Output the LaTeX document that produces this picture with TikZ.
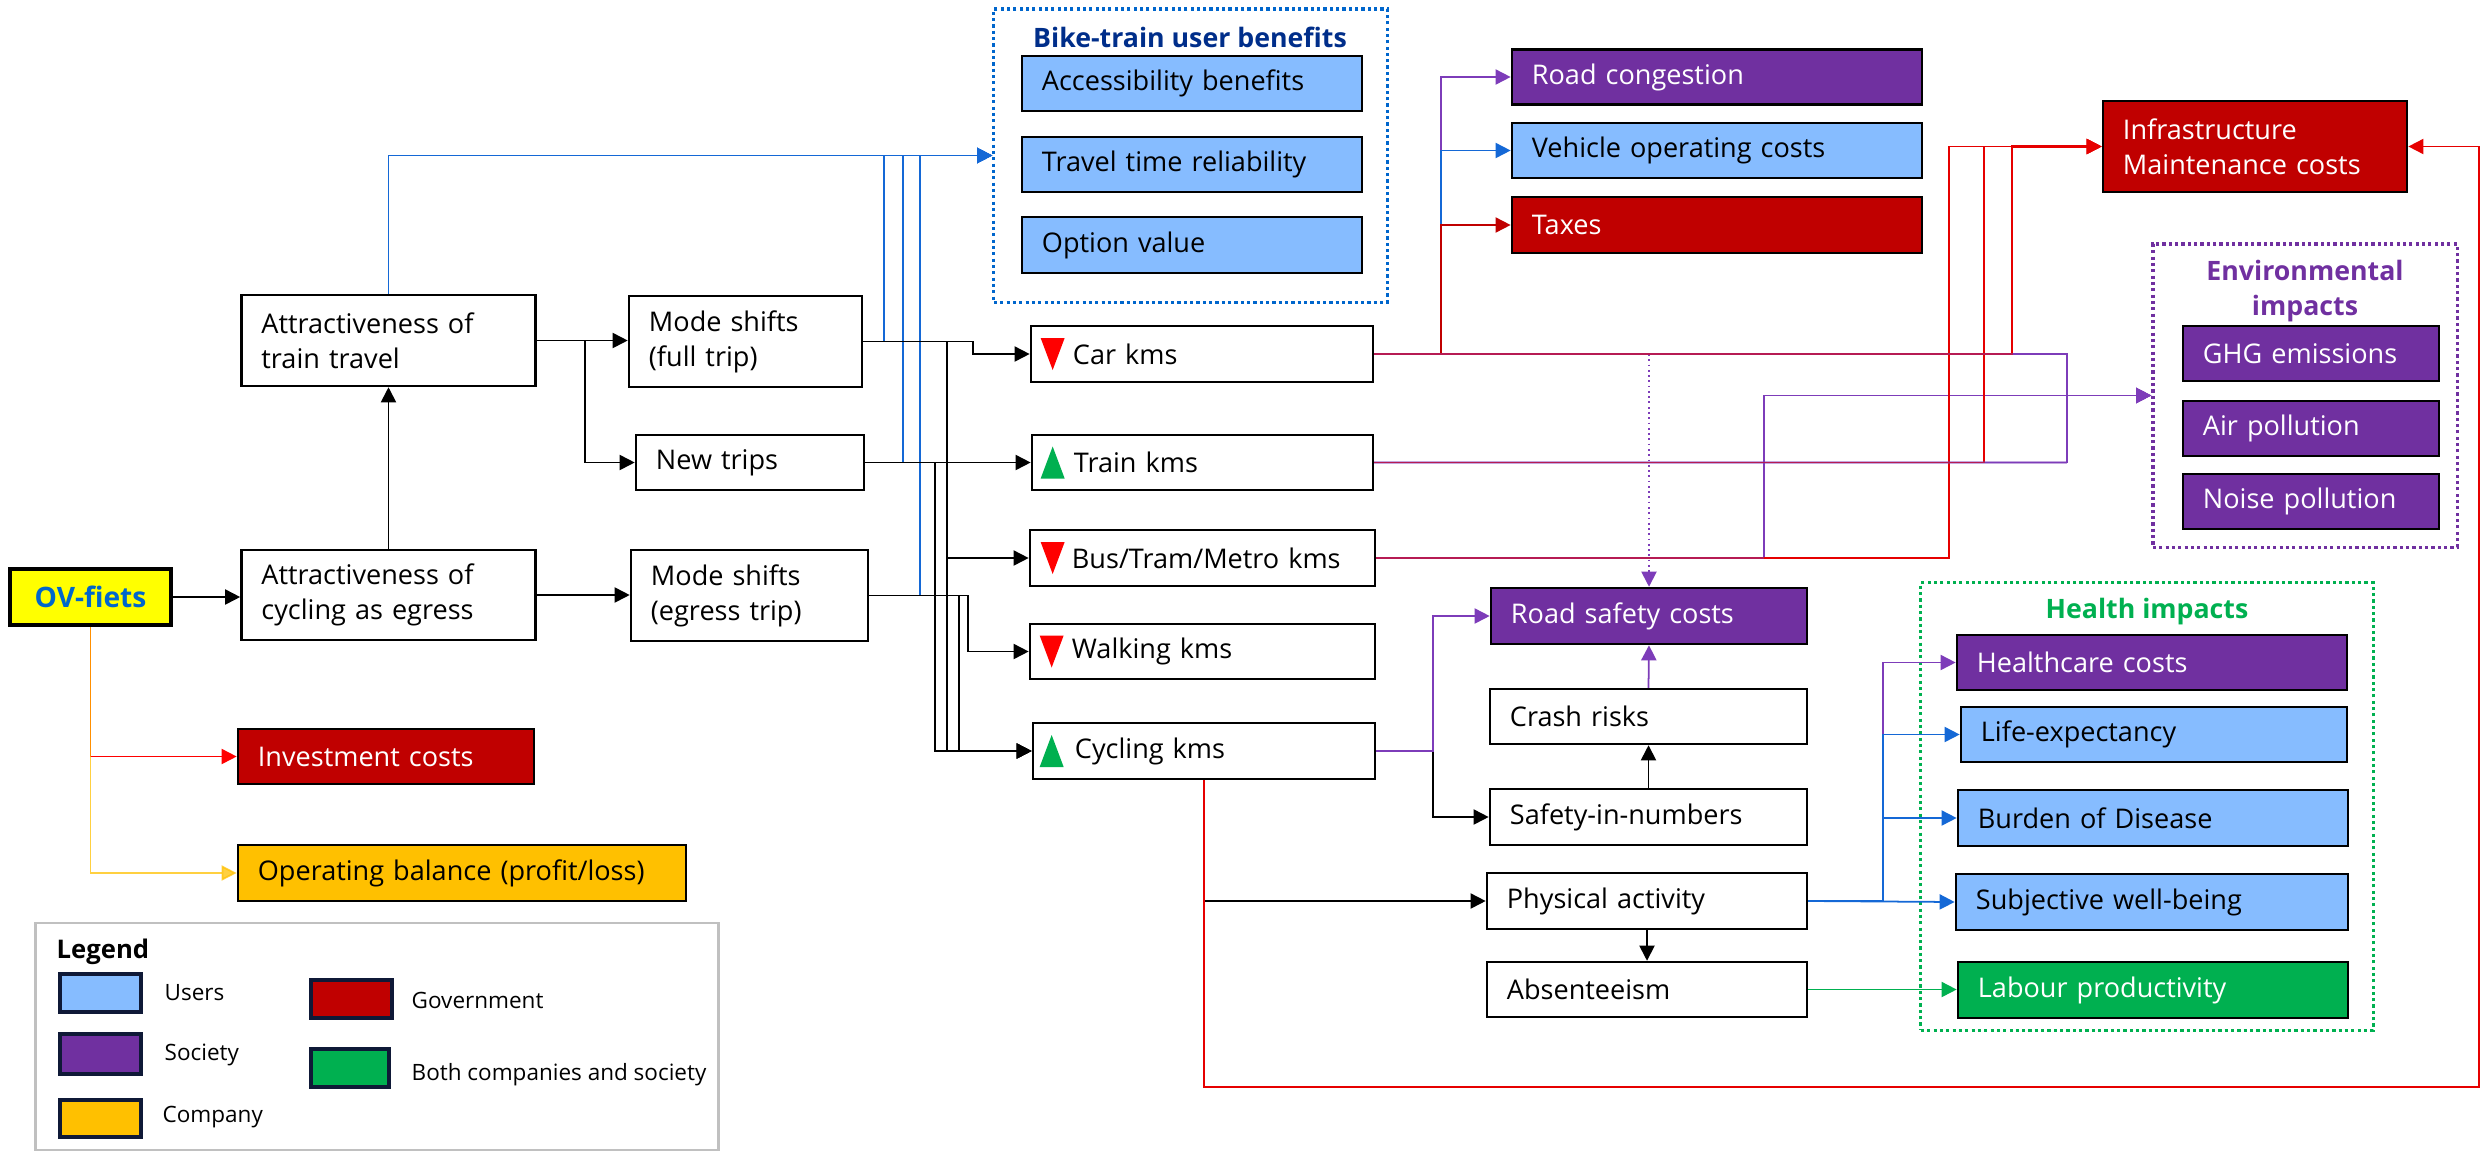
\documentclass[tikz,border=0pt]{standalone}
\usepackage{fontspec}
\setmainfont{Open Sans}
\usetikzlibrary{arrows.meta,calc}

\definecolor{userblue}{RGB}{134,188,255}
\definecolor{socpurple}{RGB}{112,48,160}
\definecolor{govred}{RGB}{192,0,0}
\definecolor{bothgreen}{RGB}{0,176,80}
\definecolor{compamber}{RGB}{255,192,0}
\definecolor{ovyellow}{RGB}{255,255,0}
\definecolor{ovblue}{RGB}{0,102,204}
\definecolor{headblue}{RGB}{0,46,138}
\definecolor{lineblue}{RGB}{20,104,214}
\definecolor{linepurple}{RGB}{125,60,185}
\definecolor{linered}{RGB}{230,0,0}
\definecolor{brightred}{RGB}{255,0,0}
\definecolor{framegray}{RGB}{192,192,192}
\definecolor{swatchedge}{RGB}{15,25,55}

\newcommand\boxfont{\fontsize{7.7pt}{10pt}\selectfont}
\newcommand\headfont{\fontsize{7.6pt}{10pt}\selectfont\bfseries}
\newcommand\legfont{\fontsize{6.4pt}{8pt}\selectfont}

\tikzset{
  bx/.style={draw=black, line width=0.7pt, inner xsep=0.2cm, inner ysep=0pt,
             align=left, font=\boxfont},
  wbx/.style={bx, fill=white},
  ubx/.style={bx, fill=userblue},
  sbx/.style={bx, fill=socpurple, text=white},
  gbx/.style={bx, fill=govred, text=white},
  cbx/.style={bx, fill=compamber},
  bbx/.style={bx, fill=bothgreen, text=white},
  grp/.style={line width=0.9pt, dash pattern=on 0.9pt off 0.9pt, inner sep=0pt},
  tip/.style={-{Triangle[length=4.3pt,width=4.3pt]}},
  conn/.style={line width=0.5pt, tip},
  bk/.style={conn, draw=black},
  bu/.style={conn, draw=lineblue},
  pu/.style={conn, draw=linepurple},
  rd/.style={conn, draw=linered},
  drd/.style={conn, draw=govred},
  gr/.style={conn, draw=bothgreen},
  am/.style={conn, draw=compamber, opacity=0.75},
  tint/.style={draw=linepurple, line width=0.6pt, opacity=0.45},
  sw/.style={draw=swatchedge, line width=1.1pt, minimum width=0.81cm,
             minimum height=0.38cm, inner sep=0pt},
  lg/.style={anchor=west, font=\legfont, inner sep=0pt},
}

\begin{document}
\begin{tikzpicture}[x=0.01cm, y=-0.01cm]
\useasboundingbox (0,0) rectangle (2484,1151);

% ---------- group frames ----------
\node[grp, draw=ovblue, minimum width=3.93cm, minimum height=2.93cm] (ubox) at (1190.5,155.5) {};
\node[font=\headfont, text=headblue, inner sep=0pt] (utitle) at (1190,37) {Bike-train user benefits};
\node[grp, draw=socpurple, minimum width=3.04cm, minimum height=3.03cm] (envbox) at (2305,395.5) {};
\node[font=\headfont, text=socpurple, align=center, inner sep=0pt] (etitle) at (2305,291) {Environmental\\impacts};
\node[grp, draw=bothgreen, minimum width=4.52cm, minimum height=4.47cm] (hbox) at (2147,806.5) {};
\node[font=\headfont, text=bothgreen, inner sep=0pt] (htitle) at (2147,612) {Health impacts};

% ---------- legend ----------
\node[draw=framegray, line width=0.8pt, minimum width=6.82cm, minimum height=2.27cm, inner sep=0pt] (legend) at (377,1036.5) {};
\node[anchor=west, font=\fontsize{7.3pt}{9pt}\selectfont\bfseries, inner sep=0pt] (lgh) at (56,952) {Legend};
\node[sw, fill=userblue] (lgu) at (100.5,993) {};
\node[lg] (lgut) at (164,993) {Users};
\node[sw, fill=socpurple, minimum height=0.40cm] (lgs) at (100.5,1054) {};
\node[lg] (lgst) at (164,1055) {Society};
\node[sw, fill=compamber, minimum height=0.37cm] (lgc) at (100.5,1118.5) {};
\node[lg] (lgct) at (162,1117) {Company};
\node[sw, fill=govred] (lgg) at (351.5,999) {};
\node[lg] (lggt) at (411,1000) {Government};
\node[sw, fill=bothgreen, minimum width=0.78cm] (lgb) at (350,1068) {};
\node[lg] (lgbt) at (411,1075) {Both companies and society};

% ---------- left column ----------
\node[draw=black, line width=1.1pt, fill=ovyellow, minimum width=1.61cm, minimum height=0.56cm,
      inner sep=0pt, font=\fontsize{8pt}{10pt}\selectfont\bfseries, text=ovblue] (ov) at (90.5,597) {OV-fiets};
\node[wbx, text width=2.54cm, minimum height=0.91cm] (attrT) at (388.5,340.5) {Attractiveness of\\train travel};
\node[wbx, text width=2.54cm, minimum height=0.90cm] (attrC) at (388.5,595) {Attractiveness of\\cycling as egress};
\node[gbx, text width=2.56cm, minimum height=0.55cm] (inv) at (386,756.5) {Investment costs};
\node[cbx, text width=4.08cm, minimum height=0.56cm] (opb) at (462,873) {Operating balance (profit/loss)};

\node[wbx, text width=1.93cm, minimum height=0.91cm] (modeF) at (745.5,341.5) {Mode shifts\\(full trip)};
\node[wbx, text width=1.88cm, minimum height=0.55cm] (newT) at (750,462.5) {New trips};
\node[wbx, text width=1.97cm, minimum height=0.91cm] (modeE) at (749.5,595.5) {Mode shifts\\(egress trip)};

% ---------- user benefits ----------
\node[ubx, text width=3.00cm, minimum height=0.55cm] (acc) at (1192,83.5) {Accessibility benefits};
\node[ubx, text width=3.00cm, minimum height=0.55cm] (ttr) at (1192,164.5) {Travel time reliability};
\node[ubx, text width=3.00cm, minimum height=0.56cm] (opt) at (1192,245) {Option value};

% ---------- kilometre changes ----------
\node[wbx, text width=3.02cm, minimum height=0.56cm] (car) at (1202,354) {\hspace*{0.22cm}Car kms};
\node[wbx, text width=3.01cm, minimum height=0.55cm] (train) at (1202.5,462.5) {\hspace*{0.22cm}Train kms};
\node[wbx, text width=3.05cm, minimum height=0.56cm] (bus) at (1202.5,558) {\hspace*{0.22cm}Bus/Tram/Metro kms};
\node[wbx, text width=3.05cm, minimum height=0.55cm] (walk) at (1202.5,651.5) {\hspace*{0.22cm}Walking kms};
\node[wbx, text width=3.02cm, minimum height=0.56cm] (cyc) at (1204,751) {\hspace*{0.22cm}Cycling kms};

\fill[brightred] ($(car.west)+(11,-16)$) -- ++(24,0) -- ++(-12,32) -- cycle;
\fill[bothgreen] ($(train.west)+(10,16)$) -- ++(24,0) -- ++(-12,-32) -- cycle;
\fill[brightred] ($(bus.west)+(12,-16)$) -- ++(24,0) -- ++(-12,32) -- cycle;
\fill[brightred] ($(walk.west)+(11,-16)$) -- ++(24,0) -- ++(-12,32) -- cycle;
\fill[bothgreen] ($(cyc.west)+(8,16)$) -- ++(24,0) -- ++(-12,-32) -- cycle;

% ---------- road effects ----------
\node[sbx, text width=3.70cm, minimum height=0.55cm] (rc) at (1717,77) {Road congestion};
\node[ubx, text width=3.70cm, minimum height=0.55cm] (voc) at (1717,150.5) {Vehicle operating costs};
\node[gbx, text width=3.70cm, minimum height=0.56cm] (tax) at (1717,225) {Taxes};
\node[gbx, text width=2.64cm, minimum height=0.91cm] (infra) at (2255,146.5) {Infrastructure\\Maintenance costs};

% ---------- environment ----------
\node[sbx, text width=2.16cm, minimum height=0.55cm] (ghg) at (2311,353.5) {GHG emissions};
\node[sbx, text width=2.16cm, minimum height=0.55cm] (air) at (2311,428.5) {Air pollution};
\node[sbx, text width=2.16cm, minimum height=0.55cm] (noise) at (2311,501.5) {Noise pollution};

% ---------- safety and health chain ----------
\node[sbx, text width=2.76cm, minimum height=0.56cm] (rsc) at (1649,616) {Road safety costs};
\node[wbx, text width=2.77cm, minimum height=0.55cm] (crash) at (1648.5,716.5) {Crash risks};
\node[wbx, text width=2.77cm, minimum height=0.56cm] (sin) at (1648.5,817) {Safety-in-numbers};
\node[wbx, text width=2.80cm, minimum height=0.56cm] (phys) at (1647,901) {Physical activity};
\node[wbx, text width=2.80cm, minimum height=0.55cm] (abs) at (1647,989.5) {Absenteeism};

\node[sbx, text width=3.50cm, minimum height=0.55cm] (hc) at (2152,662.5) {Healthcare costs};
\node[ubx, text width=3.46cm, minimum height=0.55cm] (le) at (2154,734.5) {Life-expectancy};
\node[ubx, text width=3.50cm, minimum height=0.56cm] (bod) at (2153,818) {Burden of Disease};
\node[ubx, text width=3.52cm, minimum height=0.56cm] (swb) at (2152,902) {Subjective well-being};
\node[bbx, text width=3.50cm, minimum height=0.56cm] (lab) at (2153,990) {Labour productivity};

% ---------- connectors: user benefits ----------
\draw[bu] (attrT.north) |- (ubox.west);
\draw[bu] (modeF.east) -- (884,341.5) |- (ubox.west);
\draw[bu] (newT.east) -- (903,462.5) |- (ubox.west);
\draw[bu] (modeE.east) -- (920,595.5) |- (ubox.west);

% ---------- connectors: behavioural chain ----------
\draw[bk] (ov.east) -- (ov.east -| attrC.west);
\draw[bk] (attrC.north) -- (attrT.south);
\draw[bk] (attrT.east) -- (attrT.east -| modeF.west);
\draw[bk] (attrT.east) -- (585,340.5) |- (newT.west);
\draw[bk] (attrC.east) -- (attrC.east -| modeE.west);
\draw[bk] (modeF.east) -| (973,354) -- (car.west);
\draw[bk] (modeF.east) -| (947,558) -- (bus.west);
\draw[bk] (modeF.east) -| (947,751) -- (cyc.west);
\draw[bk] (newT.east) -- (train.west);
\draw[bk] (newT.east) -| (935,751) -- (cyc.west);
\draw[bk] (modeE.east) -| (968,651.5) -- (walk.west);
\draw[bk] (modeE.east) -| (959,751) -- (cyc.west);
\draw[bk] (cyc.east) -- (1433,751) |- (sin.west);
\draw[bk] (cyc.south) |- (phys.west);
\draw[bk] (sin.north) -- (crash.south);
\draw[bk] (phys.south) -- (abs.north);

% ---------- connectors: society ----------
\draw[pu] (car.east) -- (1441,354) |- (rc.west);
\draw[pu] (car.east) -| (2067,395.5) -- (envbox.west);
\draw[pu] (train.east) -| (2067,395.5) -- (envbox.west);
\draw[pu] (bus.east) -| (1764,395.5) -- (envbox.west);
\draw[pu, densely dotted, -] (car.east -| rsc.north) -- ($(rsc.north)+(0,-14)$);
\draw[pu] ($(rsc.north)+(0,-15)$) -- (rsc.north);
\draw[pu] (cyc.east) -- (1433,751) |- (rsc.west);
\draw[pu] (crash.north) -- (rsc.south);
\draw[pu] (phys.east) -- (1883,901) |- (hc.west);

% ---------- connectors: users ----------
\draw[bu] (car.east) -- (1441,354) |- (voc.west);
\draw[bu] (phys.east) -- (1883,901) |- (le.west);
\draw[bu] (phys.east) -- (1883,901) |- (bod.west);
\draw[bu] (phys.east) -- (swb.west);

% ---------- connectors: government ----------
\draw[drd] (car.east) -- (1441,354) |- (tax.west);
\draw[rd, line width=0.6pt] (car.east) -| (2012,146.5) -- (infra.west);
\draw[rd] (train.east) -| (1984,146.5) -- (infra.west);
\draw[rd] (bus.east) -| (1949,146.5) -- (infra.west);
\draw[rd] (cyc.south) -- (1204,1087) -| (2479,146.5) -- (infra.east);
\draw[conn, draw=brightred] (ov.south) |- (inv.west);

% shared runs where society and government lines overlap
\draw[tint] (car.east) -- (car.east -| 2067,0);
\draw[tint] (train.east) -- (train.east -| 2067,0);
\draw[tint] (bus.east) -- (bus.east -| 1764,0);

% ---------- connectors: company and both ----------
\draw[am] (ov.south) |- (opb.west);
\draw[gr] (abs.east) -- (abs.east -| lab.west);

\end{tikzpicture}
\end{document}
